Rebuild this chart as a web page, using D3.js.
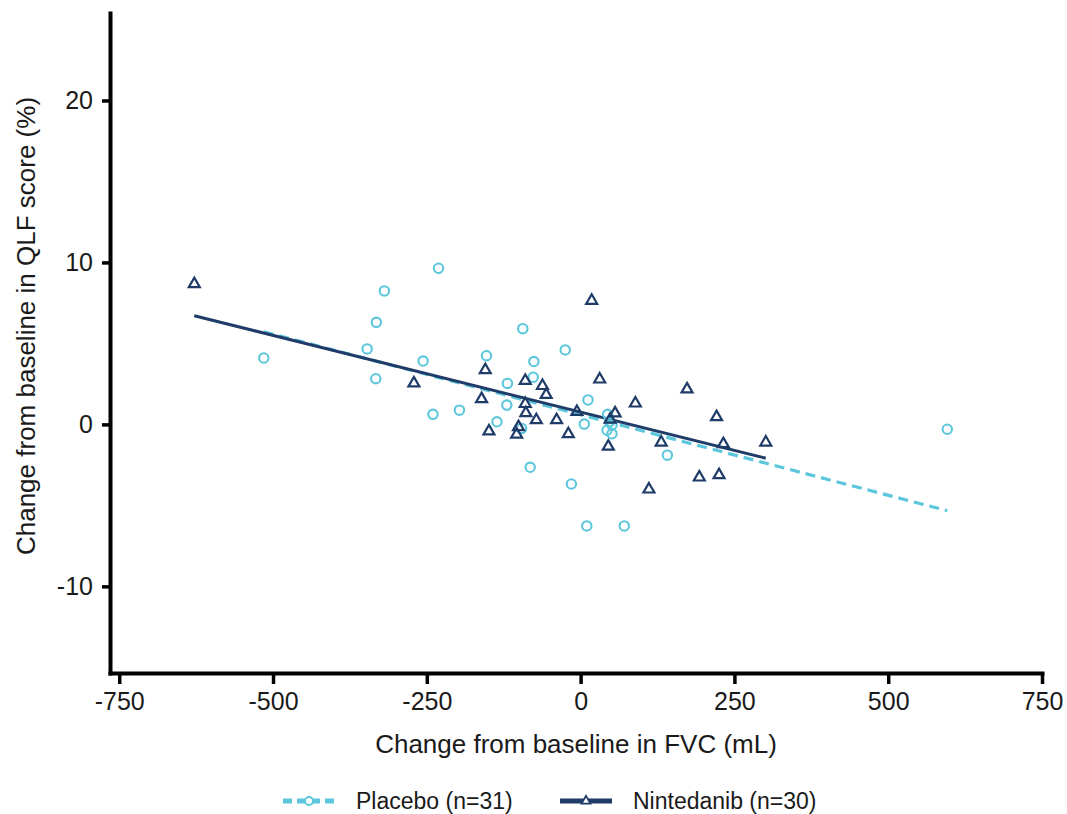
<!DOCTYPE html>
<html>
<head>
<meta charset="utf-8">
<script src="https://cdn.jsdelivr.net/npm/d3@7"></script>
<style>
  body { margin: 0; background: #fff; }
  svg { display: block; font-family: "Liberation Sans", Arial, Helvetica, sans-serif; }
</style>
</head>
<body>
<svg id="chart"></svg>
<script>
'use strict';

// Placebo (n=31): change in FVC (mL) vs change in QLF score (%)
const placeboFVC = [-515, -319, -231, -332, -347, -256, -333, -240, -197, -153,
  -94, -25, -76, -77, -119, -120, -136, -96, -82, 12,
  6, 44, 47, 43, 51, 51, 141, -15, 10, 71, 596];
const placeboQLF = [4.10, 8.24, 9.64, 6.30, 4.66, 3.91, 2.82, 0.62, 0.88, 4.24,
  5.91, 4.60, 3.88, 2.91, 2.53, 1.19, 0.16, -0.25, -2.65, 1.51,
  0.02, 0.62, 0.17, -0.36, -0.58, -0.04, -1.90, -3.68, -6.27, -6.27, -0.30];

// Nintedanib (n=30)
const nintFVC = [-628, -271, 18, -155, -90, -62, -56, -161, -90, -89,
  -72, -39, -6, 31, 56, 89, -149, -101, -104, -20,
  45, 131, 173, 221, 232, 301, 193, 225, 111, 48];
const nintQLF = [8.67, 2.54, 7.64, 3.36, 2.70, 2.38, 1.83, 1.57, 1.27, 0.70,
  0.27, 0.27, 0.78, 2.78, 0.69, 1.30, -0.42, -0.16, -0.62, -0.59,
  -1.36, -1.11, 2.17, 0.46, -1.21, -1.11, -3.27, -3.12, -4.01, 0.30];

// regression lines (end points)
const placeboFitX = [-515, 596];
const placeboFitY = [5.72, -5.33];
const nintFitX = [-628, 301];
const nintFitY = [6.71, -2.09];

const xTicks = [-750, -500, -250, 0, 250, 500, 750];
const yTicks = [-10, 0, 10, 20];

const PLACEBO = '#5cc7dc';
const NINT = '#1f3b68';
const INK = '#1a1a1a';

const width = 1067;
const height = 814;

const svg = d3.select('#chart')
  .attr('width', width)
  .attr('height', height);

const xScale = d3.scaleLinear().domain([-765, 750]).range([110, 1042]);
const yScale = d3.scaleLinear().domain([-15.35, 25.4]).range([673, 13]);

// fit lines
const zip = (xs, ys) => xs.map((x, i) => [x, ys[i]]);
const line = d3.line().x((d) => xScale(d[0])).y((d) => yScale(d[1]));

svg.append('path')
  .datum(zip(placeboFitX, placeboFitY))
  .attr('d', line)
  .attr('fill', 'none')
  .attr('stroke', PLACEBO)
  .attr('stroke-width', 3.2)
  .attr('stroke-dasharray', '10,6');

svg.append('path')
  .datum(zip(nintFitX, nintFitY))
  .attr('d', line)
  .attr('fill', 'none')
  .attr('stroke', NINT)
  .attr('stroke-width', 3);

// points
svg.append('g')
  .selectAll('circle')
  .data(zip(placeboFVC, placeboQLF))
  .enter()
  .append('circle')
  .attr('cx', (d) => xScale(d[0]))
  .attr('cy', (d) => yScale(d[1]))
  .attr('r', 4.7)
  .attr('fill', 'none')
  .attr('stroke', PLACEBO)
  .attr('stroke-width', 2.1);

const tri = d3.symbol().type(d3.symbolTriangle).size(52);
svg.append('g')
  .selectAll('path')
  .data(zip(nintFVC, nintQLF))
  .enter()
  .append('path')
  .attr('d', tri)
  .attr('transform', (d) => `translate(${xScale(d[0])},${yScale(d[1])})`)
  .attr('fill', 'none')
  .attr('stroke', NINT)
  .attr('stroke-width', 2.2);

// axes
const fmt = (d) => String(d);  // plain hyphen minus, as in the original
const xAxis = svg.append('g')
  .attr('transform', `translate(0,${yScale.range()[0]})`)
  .call(d3.axisBottom(xScale).tickValues(xTicks).tickFormat(fmt)
    .tickSize(11).tickSizeOuter(0).tickPadding(8));

const yAxis = svg.append('g')
  .attr('transform', `translate(${xScale.range()[0]},0)`)
  .call(d3.axisLeft(yScale).tickValues(yTicks).tickFormat(fmt)
    .tickSize(8).tickSizeOuter(0).tickPadding(9));

[xAxis, yAxis].forEach((ax) => {
  ax.select('.domain').attr('stroke', '#000').attr('stroke-width', 4).attr('stroke-linecap', 'square');
  ax.selectAll('.tick line').attr('stroke', '#000').attr('stroke-width', 3.5);
  ax.selectAll('.tick text')
    .attr('fill', INK)
    .attr('font-size', '25px')
    .attr('font-family', '"Liberation Sans", Arial, Helvetica, sans-serif');
});

// axis titles
svg.append('text')
  .text('Change from baseline in FVC (mL)')
  .attr('x', 576)
  .attr('y', 753)
  .attr('text-anchor', 'middle')
  .attr('font-size', '26px')
  .attr('fill', INK);

svg.append('text')
  .text('Change from baseline in QLF score (%)')
  .attr('transform', 'translate(35,326) rotate(-90)')
  .attr('text-anchor', 'middle')
  .attr('font-size', '26px')
  .attr('fill', INK);

// legend
const legendY = 801;
const legend = svg.append('g');

legend.append('line')
  .attr('x1', 283).attr('x2', 335)
  .attr('y1', legendY).attr('y2', legendY)
  .attr('stroke', PLACEBO)
  .attr('stroke-width', 5)
  .attr('stroke-dasharray', '9,5');
legend.append('circle')
  .attr('cx', 309).attr('cy', legendY).attr('r', 4)
  .attr('fill', '#fff')
  .attr('stroke', PLACEBO)
  .attr('stroke-width', 1.9);
legend.append('text')
  .text('Placebo (n=31)')
  .attr('x', 356).attr('y', legendY)
  .attr('dy', '0.35em')
  .attr('font-size', '23px')
  .attr('fill', INK);

legend.append('line')
  .attr('x1', 560).attr('x2', 612)
  .attr('y1', legendY).attr('y2', legendY)
  .attr('stroke', NINT)
  .attr('stroke-width', 5);
legend.append('path')
  .attr('d', d3.symbol().type(d3.symbolTriangle).size(34))
  .attr('transform', `translate(586,${legendY})`)
  .attr('fill', '#fff')
  .attr('stroke', NINT)
  .attr('stroke-width', 1.8);
legend.append('text')
  .text('Nintedanib (n=30)')
  .attr('x', 633).attr('y', legendY)
  .attr('dy', '0.35em')
  .attr('font-size', '23px')
  .attr('fill', INK);
</script>
</body>
</html>
